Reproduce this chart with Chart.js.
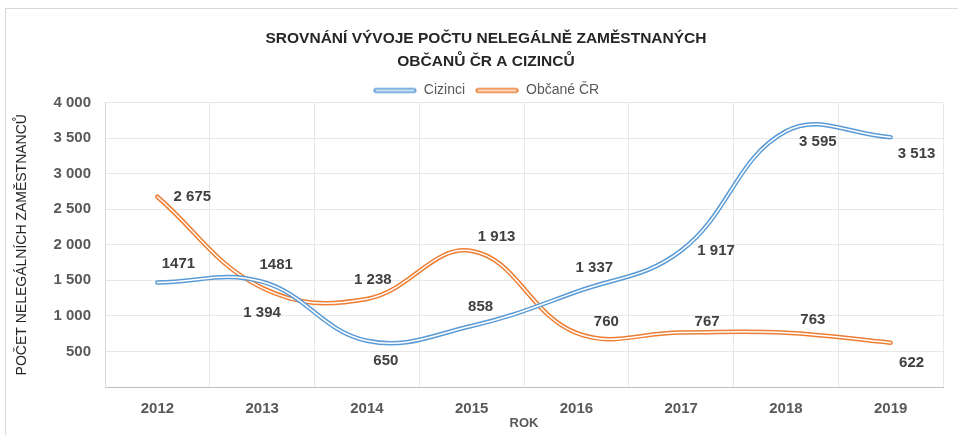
<!DOCTYPE html>
<html>
<head>
<meta charset="utf-8">
<script src="https://cdn.jsdelivr.net/npm/chart.js@4.4.1/dist/chart.umd.min.js"></script>
<style>
  body { margin: 0; background: #fff; }
  #wrap { position: relative; width: 958px; height: 435px; overflow: hidden; }
  #frame { position: absolute; left: 5px; top: 8px; width: 980px; height: 460px;
           border-top: 1px solid #d9d9d9; border-left: 1px solid #d9d9d9; pointer-events: none; }
  canvas { position: absolute; left: 0; top: 0; }
</style>
</head>
<body>
<div id="wrap">
  <canvas id="chart" width="958" height="435"></canvas>
  <div id="frame"></div>
</div>
<script>
const years = ['2012', '2013', '2014', '2015', '2016', '2017', '2018', '2019'];
const cizinci = [1471, 1481, 650, 858, 1337, 1917, 3595, 3513];
const obcane = [2675, 1394, 1238, 1913, 760, 767, 763, 622];
// labels as printed in the source (two of them lack the thousands space)
const cizinciLabels = ['1471', '1481', '650', '858', '1 337', '1 917', '3 595', '3 513'];
const obcaneLabels = ['2 675', '1 394', '1 238', '1 913', '760', '767', '763', '622'];

// where each value label sits relative to its point (px)
const cizinciOffsets = [[21, -19], [14, -17], [19, 20], [9, -19], [18, -24], [35, 0], [32, 11], [26, 17]];
const obcaneOffsets = [[35, 0], [0, 25], [6, -19], [25, -14], [30, -11], [26, -11], [27, -13], [21, 20]];

const BLUE = '#5b9bd5';
const ORANGE = '#ed7d31';
const FONT = "'Liberation Sans', Arial, sans-serif";

Chart.defaults.font.family = FONT;

function fmt(v) {
    return String(v).replace(/\B(?=(\d{3})+(?!\d))/g, ' ');
}

// small canvas used as the legend marker (double line look)
function legendLine(color) {
    const c = document.createElement('canvas');
    c.width = 44;
    c.height = 8;
    const g = c.getContext('2d');
    g.lineCap = 'round';
    g.strokeStyle = color;
    g.lineWidth = 5;
    g.beginPath(); g.moveTo(3, 4); g.lineTo(41, 4); g.stroke();
    g.strokeStyle = '#fff';
    g.lineWidth = 1.5;
    g.beginPath(); g.moveTo(3, 4); g.lineTo(41, 4); g.stroke();
    return c;
}

// white core stroked over each line to get the hollow line
const hollowLines = {
    id: 'hollowLines',
    afterDatasetDraw(chart, args) {
        const line = args.meta.dataset;
        if (!line) return;
        const ctx = chart.ctx;
        ctx.save();
        ctx.beginPath();
        line.path(ctx);
        ctx.lineCap = 'round';
        ctx.lineJoin = 'round';
        ctx.strokeStyle = '#fff';
        ctx.lineWidth = 1.5;
        ctx.stroke();
        ctx.restore();
    }
};

const valueLabels = {
    id: 'valueLabels',
    afterDatasetsDraw(chart) {
        const ctx = chart.ctx;
        ctx.save();
        ctx.font = 'bold 15px ' + FONT;
        ctx.fillStyle = '#404040';
        ctx.textAlign = 'center';
        ctx.textBaseline = 'middle';
        chart.data.datasets.forEach((ds, i) => {
            chart.getDatasetMeta(i).data.forEach((pt, j) => {
                const off = ds.labelOffsets[j];
                ctx.fillText(ds.valueLabels[j], pt.x + off[0], pt.y + off[1]);
            });
        });
        ctx.restore();
    }
};

// legend adds a fixed 10px below itself; trim it
const legendTrim = {
    id: 'legendTrim',
    afterInit(chart) {
        const lg = chart.legend;
        const fit = lg.fit;
        lg.fit = function() {
            fit.call(this);
            this.height -= 5;
        };
    }
};

new Chart(document.getElementById('chart'), {
    type: 'line',
    data: {
        labels: years,
        datasets: [{
            label: 'Cizinci',
            data: cizinci,
            valueLabels: cizinciLabels,
            labelOffsets: cizinciOffsets,
            borderColor: BLUE,
            backgroundColor: BLUE,
            borderWidth: 4.5,
            borderCapStyle: 'round',
            tension: 0.4,
            pointRadius: 0,
            pointStyle: legendLine(BLUE)
        }, {
            label: 'Občané ČR',
            data: obcane,
            valueLabels: obcaneLabels,
            labelOffsets: obcaneOffsets,
            borderColor: ORANGE,
            backgroundColor: ORANGE,
            borderWidth: 4.5,
            borderCapStyle: 'round',
            tension: 0.4,
            pointRadius: 0,
            pointStyle: legendLine(ORANGE)
        }]
    },
    options: {
        responsive: false,
        animation: false,
        layout: { padding: { top: 0, right: 15, bottom: 0, left: 29 } },
        plugins: {
            title: {
                display: true,
                text: ['SROVNÁNÍ VÝVOJE POČTU NELEGÁLNĚ ZAMĚSTNANÝCH', 'OBČANŮ ČR A CIZINCŮ'],
                color: '#262626',
                font: { size: 15.5, weight: 'bold', lineHeight: 1.5 },
                padding: { top: 27, bottom: 0 }
            },
            legend: {
                labels: {
                    usePointStyle: true,
                    pointStyleWidth: 44,
                    color: '#595959',
                    font: { size: 14 },
                    padding: 10
                }
            },
            tooltip: { enabled: false }
        },
        scales: {
            x: {
                offset: true,
                grid: { offset: true, color: '#e7e7e7', drawTicks: false },
                border: { color: '#bfbfbf' },
                ticks: { color: '#595959', font: { size: 15, weight: 'bold' }, padding: 13 },
                title: {
                    display: true,
                    text: 'ROK',
                    color: '#595959',
                    font: { size: 13, weight: 'bold' },
                    padding: { top: 0, bottom: 4 }
                },
                afterFit(scale) { scale.height = 48; }
            },
            y: {
                min: 0,
                max: 4000,
                grid: { color: '#e7e7e7', drawTicks: false },
                border: { color: '#d9d9d9' },
                ticks: {
                    stepSize: 500,
                    color: '#595959',
                    font: { size: 15, weight: 'bold' },
                    padding: 14,
                    callback: v => v === 0 ? '' : fmt(v)
                },
                title: {
                    display: true,
                    text: 'POČET NELEGÁLNÍCH ZAMĚSTNANCŮ',
                    color: '#262626',
                    font: { size: 14 },
                    padding: { top: -15.4, bottom: 0 }
                },
                afterFit(scale) { scale.width = 76; }
            }
        }
    },
    plugins: [hollowLines, valueLabels, legendTrim]
});
</script>
</body>
</html>
